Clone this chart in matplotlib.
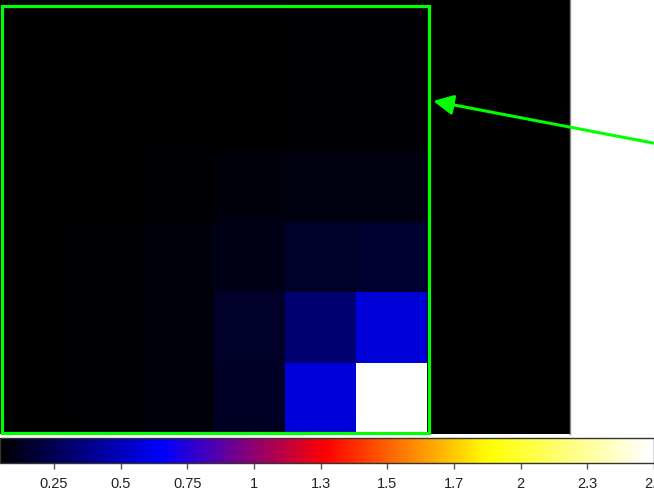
"""Zoomed pixel view of a bright source with a region box, pointer arrow and ds9-style 'b' colorbar."""

import numpy as np
import matplotlib

matplotlib.use("Agg")
import matplotlib.pyplot as plt
from matplotlib.colors import LinearSegmentedColormap, Normalize
from matplotlib.patches import Rectangle

plt.rcParams["font.family"] = ["Liberation Sans", "DejaVu Sans"]

# pixel values, listed top row first (8 columns x 7 rows)
row_r6 = [0.030, 0.030, 0.040, 0.045, 0.050, 0.050, 0.0, 0.0]
row_r5 = [0.045, 0.046, 0.048, 0.053, 0.062, 0.062, 0.0, 0.0]
row_r4 = [0.046, 0.047, 0.050, 0.057, 0.067, 0.066, 0.0, 0.0]
row_r3 = [0.052, 0.055, 0.067, 0.082, 0.091, 0.087, 0.0, 0.0]
row_r2 = [0.054, 0.062, 0.082, 0.106, 0.149, 0.163, 0.0, 0.0]
row_r1 = [0.055, 0.060, 0.082, 0.144, 0.317, 0.571, 0.0, 0.0]
row_r0 = [0.054, 0.060, 0.077, 0.134, 0.571, 2.620, 0.0, 0.0]

scale_min = 0.048
scale_max = 2.493
cbar_ticks = [0.25, 0.5, 0.75, 1.0, 1.25, 1.5, 1.75, 2.0, 2.25, 2.5]
cbar_labels = ["0.25", "0.5", "0.75", "1", "1.3", "1.5", "1.7", "2", "2.3", "2.5"]

# box region (centre and size in image pixels) and the pointer arrow
box_center = (2.53, 3.46)
box_size = (5.99, 6.04)
arrow_tip = (5.58, 1.79)
arrow_tail = (9.32, 2.51)

REGION_COLOR = "#00ff00"

# ds9 "b" colormap: black -> blue -> red -> yellow -> white
ds9_b = LinearSegmentedColormap(
    "ds9_b",
    {
        "red": [(0.0, 0.0, 0.0), (0.25, 0.0, 0.0), (0.5, 1.0, 1.0), (1.0, 1.0, 1.0)],
        "green": [(0.0, 0.0, 0.0), (0.5, 0.0, 0.0), (0.75, 1.0, 1.0), (1.0, 1.0, 1.0)],
        "blue": [(0.0, 0.0, 0.0), (0.25, 1.0, 1.0), (0.5, 0.0, 0.0),
                 (0.75, 0.0, 0.0), (1.0, 1.0, 1.0)],
    },
)

pixels = np.array([row_r6, row_r5, row_r4, row_r3, row_r2, row_r1, row_r0])

W, H = 654, 494
fig = plt.figure(figsize=(W / 100, H / 100), dpi=100)

# image frame: 570 px wide, 434 px tall, flush with the top-left corner
img_w, img_h = 570, 434
cell_h = 70.7
ax = fig.add_axes([0, (H - img_h) / H, img_w / W, img_h / H])
norm = Normalize(vmin=scale_min, vmax=scale_max)
im = ax.imshow(pixels, cmap=ds9_b, norm=norm, interpolation="nearest", aspect="auto")
n_rows, n_cols = pixels.shape
ax.set_xlim(-0.5, n_cols - 0.5)
ax.set_ylim(n_rows - 0.5, n_rows - 0.5 - img_h / cell_h)
ax.set_xticks([])
ax.set_yticks([])
for side in ("top", "left", "bottom"):
    ax.spines[side].set_visible(False)
ax.spines["right"].set_color("#888888")
ax.spines["right"].set_linewidth(1.0)

ax.add_patch(Rectangle(
    (box_center[0] - box_size[0] / 2, box_center[1] - box_size[1] / 2),
    box_size[0], box_size[1],
    fill=False, edgecolor=REGION_COLOR, linewidth=2.3, zorder=3, clip_on=False,
))

ax.annotate(
    "", xy=arrow_tip, xytext=arrow_tail,
    arrowprops=dict(arrowstyle="-|>,head_length=1.0,head_width=0.5",
                    mutation_scale=12, color=REGION_COLOR, linewidth=2.2,
                    shrinkA=0, shrinkB=0),
    annotation_clip=False,
)

# colorbar along the bottom
cax = fig.add_axes([0, (H - 463) / H, 1.0, 25 / H])
cb = fig.colorbar(im, cax=cax, orientation="horizontal")
cb.set_ticks(cbar_ticks)
cb.set_ticklabels(cbar_labels)
cb.outline.set_edgecolor("#333333")
cb.outline.set_linewidth(1.0)
cax.tick_params(axis="x", direction="out", length=4, width=1, color="#555555",
                labelsize=10.5, pad=6, labelcolor="#222222")

fig.savefig("out.png", dpi=100)
